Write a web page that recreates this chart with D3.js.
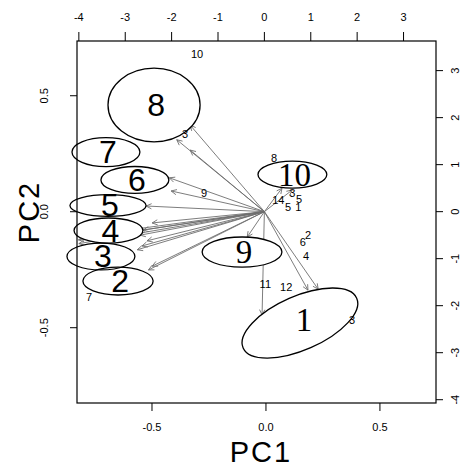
<!DOCTYPE html>
<html><head><meta charset="utf-8">
<script src="https://cdn.jsdelivr.net/npm/d3@7"></script>
<style>
html,body{margin:0;padding:0;background:#fff;}
svg{display:block;}
text{font-family:"Liberation Sans",Arial,sans-serif;fill:#000;}
</style></head>
<body>
<svg id="chart" width="460" height="465"></svg>
<script>
// ---- data ----
const groups   = ["1","2","3","4","5","6","7","8","9","10"];
const groupPC1 = [0.149,-0.649,-0.724,-0.691,-0.693,-0.575,-0.702,-0.491,-0.105,0.116];
const groupPC2 = [-0.480,-0.299,-0.193,-0.081,0.027,0.137,0.257,0.460,-0.174,0.160];
const groupRx  = [0.272,0.154,0.149,0.151,0.167,0.149,0.149,0.202,0.175,0.151];
const groupRy  = [0.116,0.060,0.058,0.054,0.047,0.058,0.0625,0.159,0.065,0.058];
const groupTilt= [23.7,0,0,0,0,0,0,0,0,0];
const serifGroups = ["1","9","10"];

const loadX = [-1.60,-1.89,-1.60,-2.01,-2.05,-2.55,-2.42,-2.61,-2.68,-4.01,-3.98,-4.00,-2.74,-2.64,-2.53,-2.50,-2.42,-0.37,-0.05,0.94,1.16,0.38,0.60];
const loadY = [1.84,1.53,1.31,0.44,0.72,0.12,-0.24,-0.39,-0.50,-0.60,-0.53,-0.68,-0.81,-0.73,-0.62,-1.24,-1.16,-0.54,-2.20,-1.67,-1.65,0.50,0.46];

const varLabels = ["10","9","3","8","14","3","5","5","1","6","2","4","11","12","7","3"];
const varLabX   = [-1.45,-1.30,-1.71,0.21,0.30,0.60,0.75,0.51,0.73,0.83,0.94,0.90,0.02,0.47,-3.78,1.89];
const varLabY   = [3.36,0.40,1.65,1.14,0.25,0.40,0.27,0.10,0.10,-0.64,-0.50,-0.94,-1.54,-1.60,-1.81,-2.30];

const pcTicks   = [-0.5,0,0.5];
const loadTicks = [-4,-3,-2,-1,0,1,2,3];

// ---- layout ----
const svg = d3.select("#chart");
const L=77,R=436,T=41,B=403;
const x  = d3.scaleLinear().domain([-0.829,0.746]).range([L,R]);
const y  = d3.scaleLinear().domain([0.736,-0.8246]).range([T,B]);
const x2 = d3.scaleLinear().domain([-4.04,3.70]).range([L,R]);
const y2 = d3.scaleLinear().domain([3.63,-4.07]).range([T,B]);

// ---- arrows ----
const ag = svg.append("g");
const ox=x2(0), oy=y2(0);
loadX.forEach((lx,i)=>{
  const ex=x2(lx), ey=y2(loadY[i]);
  ag.append("line").attr("x1",ox).attr("y1",oy).attr("x2",ex).attr("y2",ey)
    .attr("stroke","#6e6e6e").attr("stroke-width",0.9);
  const ang=Math.atan2(ey-oy,ex-ox), len=6, spread=Math.PI/7;
  const p=[[ex-len*Math.cos(ang-spread),ey-len*Math.sin(ang-spread)],[ex,ey],[ex-len*Math.cos(ang+spread),ey-len*Math.sin(ang+spread)]];
  ag.append("path").attr("d",d3.line()(p)).attr("fill","none").attr("stroke","#6e6e6e").attr("stroke-width",0.9);
});

// ---- ellipses ----
const eg = svg.append("g");
function ell(sel,i){
  const cx=x(groupPC1[i]), cy=y(groupPC2[i]);
  const rx=x(groupPC1[i]+groupRx[i])-cx, ry=y(groupPC2[i]-groupRy[i])-cy;
  return sel.append("ellipse").attr("cx",0).attr("cy",0).attr("rx",rx).attr("ry",ry)
    .attr("transform",`translate(${cx},${cy}) rotate(${-groupTilt[i]})`);
}
groups.forEach((g,i)=>{ ell(eg,i).attr("fill","#fff").attr("stroke","none"); });
groups.forEach((g,i)=>{ ell(eg,i).attr("fill","none").attr("stroke","#000").attr("stroke-width",1.3); });
groups.forEach((g,i)=>{
  const serif = serifGroups.includes(g);
  eg.append("text").attr("x",x(groupPC1[i])+(g==="1"?4:2)).attr("y",y(groupPC2[i])+(g==="1"?-3:0))
    .attr("text-anchor","middle").attr("dominant-baseline","central")
    .style("font-family",serif?"'Liberation Serif',serif":"'Liberation Sans',Arial,sans-serif")
    .style("font-size",serif?"33px":"32px").text(g);
});

// ---- variable labels ----
varLabels.forEach((t,i)=>{
  svg.append("text").attr("x",x2(varLabX[i])).attr("y",y2(varLabY[i]))
    .attr("text-anchor","middle").attr("dominant-baseline","central")
    .style("font-size","11px").text(t);
});

// ---- box & axes ----
svg.append("rect").attr("x",L).attr("y",T).attr("width",R-L).attr("height",B-T)
  .attr("fill","none").attr("stroke","#000").attr("stroke-width",1.2);

const ax = svg.append("g").attr("stroke","#000").attr("stroke-width",1);
pcTicks.forEach(v=>{
  ax.append("line").attr("x1",x(v)).attr("x2",x(v)).attr("y1",B).attr("y2",B+8);
  svg.append("text").attr("x",x(v)).attr("y",427).attr("text-anchor","middle").attr("dominant-baseline","central")
    .style("font-size","11px").text(d3.format(".1f")(v).replace("−","-"));
  ax.append("line").attr("x1",L).attr("x2",L-7).attr("y1",y(v)).attr("y2",y(v));
  svg.append("text").attr("transform",`translate(44,${y(v)}) rotate(-90)`).attr("text-anchor","middle").attr("dominant-baseline","central")
    .style("font-size","11px").text(d3.format(".1f")(v).replace("−","-"));
});
loadTicks.forEach(v=>{
  ax.append("line").attr("x1",x2(v)).attr("x2",x2(v)).attr("y1",T).attr("y2",T-9);
  svg.append("text").attr("x",x2(v)).attr("y",17).attr("text-anchor","middle").attr("dominant-baseline","central")
    .style("font-size","11px").text(String(v));
  ax.append("line").attr("x1",R).attr("x2",R+7).attr("y1",y2(v)).attr("y2",y2(v));
  svg.append("text").attr("transform",`translate(455,${y2(v)}) rotate(-90)`).attr("text-anchor","middle").attr("dominant-baseline","central")
    .style("font-size","11px").text(String(v));
});

svg.append("text").attr("x",261).attr("y",462).attr("text-anchor","middle")
  .style("font-size","29px").style("letter-spacing","2px").text("PC1");
svg.append("text").attr("transform","translate(39,212) rotate(-90)").attr("text-anchor","middle")
  .style("font-size","29px").style("letter-spacing","2px").text("PC2");
</script>
</body></html>
